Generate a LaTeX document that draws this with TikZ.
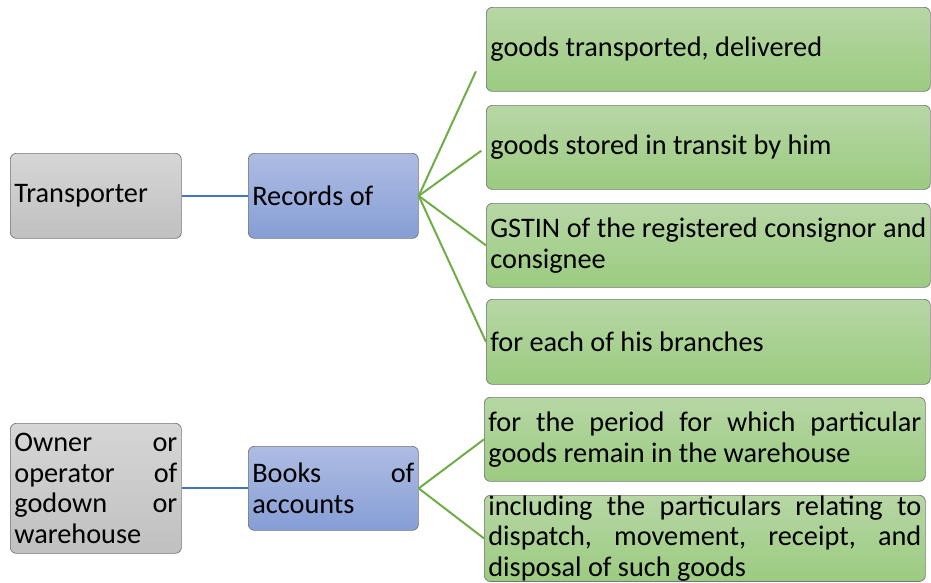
\documentclass[tikz,border=0pt]{standalone}
\usepackage{fontspec}
\setmainfont{Carlito}
\usetikzlibrary{calc}
\hyphenpenalty=10000
\exhyphenpenalty=10000
\tolerance=9999
\emergencystretch=10em
\definecolor{grayT}{HTML}{D6D6D6}
\definecolor{grayB}{HTML}{C0C0C0}
\definecolor{blueT}{HTML}{AEBCE2}
\definecolor{blueB}{HTML}{869ED6}
\definecolor{greenT}{HTML}{B7D7A5}
\definecolor{greenB}{HTML}{9BCB80}
\definecolor{frameC}{HTML}{767676}
\definecolor{linkBlue}{HTML}{4472C4}
\definecolor{linkGreen}{HTML}{70AD47}
\tikzset{
  card/.style 2 args={draw=frameC, line width=0.7pt, rounded corners=6pt,
    anchor=north west, inner xsep=4pt, inner ysep=0pt,
    text width=#1, minimum height=#2, align=justify,
    font=\fontsize{28.3}{30.8}\selectfont},
  graycard/.style={top color=grayT, bottom color=grayB},
  bluecard/.style={top color=blueT, bottom color=blueB},
  greencard/.style={top color=greenT, bottom color=greenB},
  bluelink/.style={draw=linkBlue, line width=2.2pt},
  greenlink/.style={draw=linkGreen, line width=2pt}
}
\begin{document}
\begin{tikzpicture}[x=1pt,y=-1pt]
\useasboundingbox (0,0) rectangle (931,582);
% top group
\node[card={163pt}{85pt}, graycard] (tr) at (10,153) {Transporter};
\node[card={162pt}{85pt}, bluecard] (rec) at (248,153) {Records of};
\node[card={436pt}{84pt}, greencard] (g1) at (486,7) {goods transported, delivered};
\node[card={436pt}{84pt}, greencard] (g2) at (486,105) {goods stored in transit by him};
\node[card={436pt}{84pt}, greencard] (g3) at (486,203) {GSTIN of the registered consignor and\linebreak consignee};
\node[card={436pt}{85pt}, greencard] (g4) at (486,299) {for each of his branches};
% bottom group
\node[card={163pt}{130pt}, graycard] (own) at (10,423) {Owner or\linebreak operator of\linebreak godown or\linebreak warehouse};
\node[card={162pt}{84pt}, bluecard] (bk) at (248,446) {Books of\linebreak accounts};
\node[card={433pt}{84pt}, greencard] (g5) at (484,397) {for the period for which particular\linebreak goods remain in the warehouse};
\node[card={433pt}{85pt}, greencard] (g6) at (484,495) {including the particulars relating to\linebreak dispatch, movement, receipt, and\linebreak disposal of such goods};
% connectors
\draw[bluelink] (tr.east) -- (rec.west);
\draw[bluelink] (own.east) -- (bk.west);
\draw[greenlink] (rec.east) -- ($(rec.east)!0.85!(g1.west)$);
\draw[greenlink] (rec.east) -- ($(rec.east)!0.93!(g2.west)$);
\draw[greenlink] (rec.east) -- (g3.west);
\draw[greenlink] (rec.east) -- (g4.west);
\draw[greenlink] (bk.east) -- (g5.west);
\draw[greenlink] (bk.east) -- (g6.west);
\end{tikzpicture}
\end{document}
